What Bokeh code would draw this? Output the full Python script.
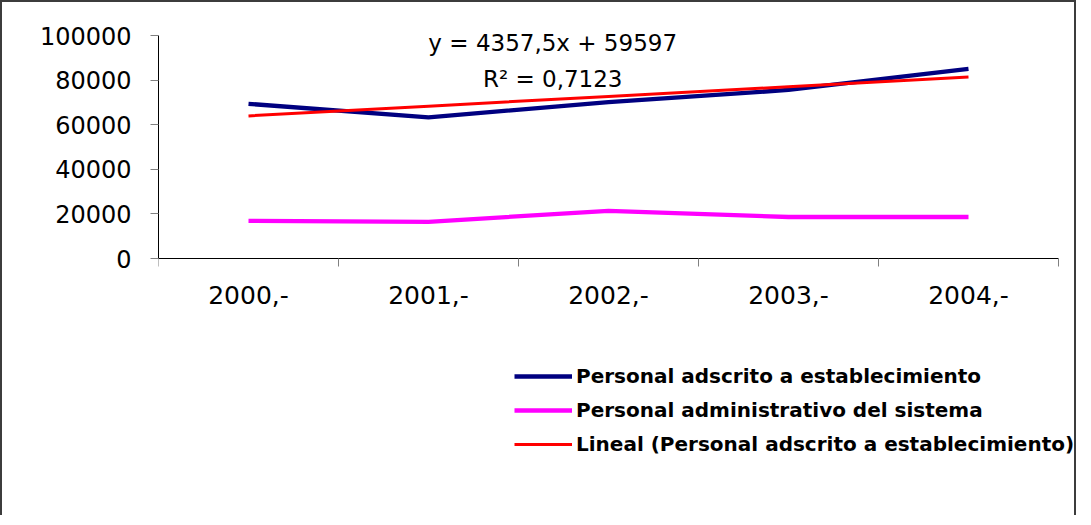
from bokeh.plotting import figure
from bokeh.models import Range1d, FixedTicker, Legend, LegendItem, Label
from bokeh.embed import file_html
from bokeh.resources import INLINE

years = ["2000,-", "2001,-", "2002,-", "2003,-", "2004,-"]
adscrito = [69350, 63260, 70170, 75580, 84990]
administrativo = [16900, 16460, 21390, 18600, 18600]
lineal = [63954.5, 68312, 72669.5, 77027, 81384.5]
y_ticks = [0, 20000, 40000, 60000, 80000, 100000]
y_tick_labels = ["0", "20000", "40000", "60000", "80000", "100000"]
series_names = ["Personal adscrito a establecimiento",
                "Personal administrativo del sistema",
                "Lineal (Personal adscrito a establecimiento)"]
equation_text = "y = 4357,5x + 59597"
r2_text = "R\u00b2 = 0,7123"

xs = [i + 0.5 for i in range(len(years))]

# layout (pixels): value axis 0..max spans 223 px; the frame covers the whole canvas
# height (33 px above the axis top, 259 px below the axis bottom)
axis_px, above_px, below_px = 223.0, 33.0, 259.0
cat_px, frame_w_px = 900.0, 920.0
y_max = max(y_ticks)
y_high = y_max + above_px / axis_px * y_max
y_low = -below_px / axis_px * y_max
x_high = len(years) * frame_w_px / cat_px

p = figure(width=1076, height=515, output_backend="svg", toolbar_location=None,
           x_range=Range1d(0, x_high), y_range=Range1d(y_low, y_high),
           min_border_left=156, min_border_right=0, min_border_top=0,
           min_border_bottom=0)
p.styles = {"border-top": "2px solid #3c3c3c", "border-left": "2px solid #3c3c3c",
            "border-right": "2px solid #3c3c3c"}
p.outline_line_color = None
p.xgrid.visible = False
p.ygrid.visible = False
p.background_fill_color = "white"
p.border_fill_color = "white"

# y axis
ya = p.yaxis[0]
ya.ticker = FixedTicker(ticks=y_ticks)
ya.bounds = (0, y_max)
ya.major_label_overrides = {t: l for t, l in zip(y_ticks, y_tick_labels)}
ya.major_tick_out = 8
ya.major_tick_in = 0
ya.minor_tick_out = 0
ya.minor_tick_in = 0
ya.major_tick_line_color = "#808080"
ya.axis_line_color = "black"
ya.major_label_standoff = 19
ya.major_label_text_font = "DejaVu Sans"
ya.major_label_text_font_size = "24px"
ya.major_label_text_color = "black"

# x axis, placed at value 0
xa = p.xaxis[0]
xa.fixed_location = 0
xa.bounds = (0, len(years))
xa.ticker = FixedTicker(ticks=xs, minor_ticks=list(range(len(years) + 1)))
xa.major_label_overrides = {x: l for x, l in zip(xs, years)}
xa.major_tick_out = 0
xa.major_tick_in = 0
xa.minor_tick_out = 8
xa.minor_tick_in = 0
xa.minor_tick_line_color = "#808080"
xa.axis_line_color = "black"
xa.major_label_standoff = 19
xa.major_label_text_font = "DejaVu Sans"
xa.major_label_text_font_size = "25px"
xa.major_label_text_color = "black"

r1 = p.line(xs, adscrito, line_color="#000080", line_width=4.3)
r2 = p.line(xs, administrativo, line_color="#FF00FF", line_width=4.3)
r3 = p.line(xs, lineal, line_color="#FF0000", line_width=3)

p.add_layout(Label(x=2.19, y=96800, text=equation_text, text_align="center",
                   text_baseline="middle", text_font="DejaVu Sans",
                   text_font_size="23px", text_color="black"))
p.add_layout(Label(x=2.19, y=80270, text=r2_text, text_align="center",
                   text_baseline="middle", text_font="DejaVu Sans",
                   text_font_size="23px", text_color="black"))

legend = Legend(items=[LegendItem(label=series_names[0], renderers=[r1]),
                       LegendItem(label=series_names[1], renderers=[r2]),
                       LegendItem(label=series_names[2], renderers=[r3])],
                location=(356, 61), orientation="vertical",
                padding=0, margin=0, spacing=10, glyph_width=58, glyph_height=20,
                label_height=20, label_standoff=4,
                label_text_font="DejaVu Sans", label_text_font_style="bold",
                label_text_font_size="20px", label_text_color="black",
                border_line_color=None, background_fill_alpha=0)
p.add_layout(legend, "center")

open("out.html", "w").write(file_html(p, INLINE))
